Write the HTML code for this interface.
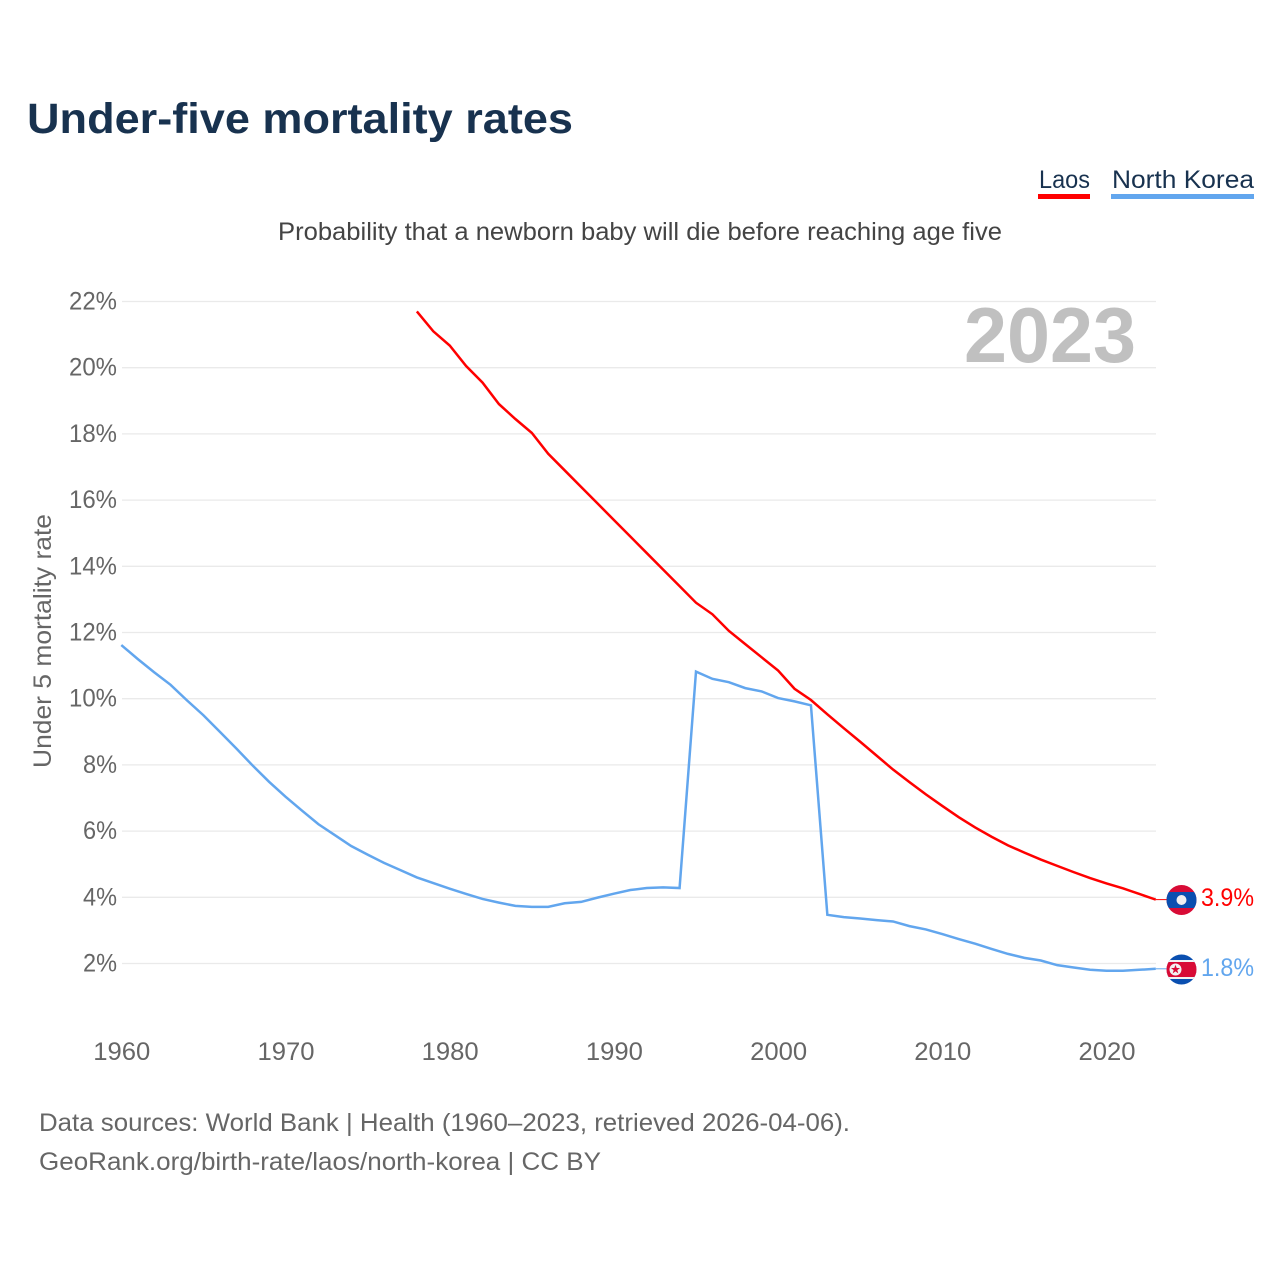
<!DOCTYPE html>
<html lang="en">
<head>
<meta charset="utf-8">
<title>Under-five mortality rates</title>
<style>
html,body{margin:0;padding:0;background:#fff;width:1280px;height:1280px;overflow:hidden}
svg{display:block}
text{font-family:"Liberation Sans",sans-serif}
</style>
</head>
<body>
<svg id="chart" xmlns="http://www.w3.org/2000/svg" width="1280" height="1280" viewBox="0 0 1280 1280">
  <defs>
    <clipPath id="laos-clip"><circle cx="1181.5" cy="900" r="15"/></clipPath>
    <clipPath id="korea-clip"><circle cx="1181.5" cy="969.5" r="15"/></clipPath>
  </defs>
  <rect width="1280" height="1280" fill="#fff"/>
  <text x="27" y="133" font-size="43" font-weight="700" fill="#18324f" textLength="546" lengthAdjust="spacingAndGlyphs">Under-five mortality rates</text>

  <g>
    <text x="1039" y="188" font-size="25" fill="#18324f" textLength="51" lengthAdjust="spacingAndGlyphs">Laos</text>
    <rect x="1038" y="194" width="52" height="5" fill="#ff0000"/>
  </g>
  <g>
    <text x="1112" y="188" font-size="25" fill="#18324f" textLength="142" lengthAdjust="spacingAndGlyphs">North Korea</text>
    <rect x="1111" y="194" width="143" height="5" fill="#62a6ee"/>
  </g>

  <text x="278" y="240" font-size="25" fill="#444444" textLength="724" lengthAdjust="spacingAndGlyphs">Probability that a newborn baby will die before reaching age five</text>

  <g id="grid"></g>
  <text x="964" y="362" font-size="78" font-weight="700" fill="#c0c0c0" textLength="172" lengthAdjust="spacingAndGlyphs">2023</text>
  <g id="y-ticks"></g>
  <g id="x-ticks"></g>
  <text transform="translate(51,768) rotate(-90)" font-size="25" fill="#666666" textLength="254" lengthAdjust="spacingAndGlyphs">Under 5 mortality rate</text>

  <g id="series"></g>

  <g clip-path="url(#laos-clip)">
    <rect x="1166" y="884" width="31" height="32" fill="#d80b36"/>
    <rect x="1166" y="892" width="31" height="16" fill="#0a4fb0"/>
    <circle cx="1181.5" cy="900" r="5" fill="#f0f0f0"/>
  </g>
  <g clip-path="url(#korea-clip)">
    <rect x="1166" y="954" width="31" height="31" fill="#0a4fb0"/>
    <rect x="1166" y="960" width="31" height="19" fill="#f2f2f2"/>
    <rect x="1166" y="962" width="31" height="15" fill="#d80b36"/>
    <circle cx="1175.5" cy="969.5" r="6" fill="#f2f2f2"/>
    <polygon points="1175.5,964.8 1176.7,968 1180,968 1177.3,970.1 1178.3,973.4 1175.5,971.4 1172.7,973.4 1173.7,970.1 1171,968 1174.3,968" fill="#d80b36"/>
  </g>
  <text x="1201" y="906" font-size="25" fill="#ff0000" textLength="53" lengthAdjust="spacingAndGlyphs">3.9%</text>
  <text x="1201" y="976" font-size="25" fill="#62a6ee" textLength="53" lengthAdjust="spacingAndGlyphs">1.8%</text>

  <text x="39" y="1131" font-size="25" fill="#666666" textLength="811" lengthAdjust="spacingAndGlyphs">Data sources: World Bank | Health (1960–2023, retrieved 2026-04-06).</text>
  <text x="39" y="1170" font-size="25" fill="#666666" textLength="562" lengthAdjust="spacingAndGlyphs">GeoRank.org/birth-rate/laos/north-korea | CC BY</text>
</svg>
<script>
const yTickValues = [2,4,6,8,10,12,14,16,18,20,22];
const xTickYears = [1960,1970,1980,1990,2000,2010,2020];
const koreaStartYear = 1960;
const koreaValues = [11.62,11.2,10.8,10.42,9.95,9.5,9.0,8.5,7.98,7.49,7.04,6.62,6.21,5.88,5.55,5.29,5.04,4.82,4.6,4.43,4.26,4.1,3.95,3.84,3.74,3.71,3.71,3.82,3.86,3.99,4.11,4.22,4.28,4.3,4.28,10.82,10.6,10.5,10.32,10.22,10.02,9.92,9.8,3.47,3.4,3.36,3.31,3.27,3.13,3.03,2.89,2.74,2.6,2.44,2.29,2.17,2.09,1.95,1.88,1.81,1.78,1.78,1.81,1.84];
const laosStartYear = 1978;
const laosValues = [21.7,21.1,20.67,20.05,19.55,18.9,18.45,18.03,17.4,16.9,16.4,15.9,15.4,14.9,14.4,13.9,13.4,12.9,12.55,12.05,11.65,11.25,10.85,10.3,9.96,9.53,9.11,8.7,8.28,7.86,7.48,7.11,6.76,6.42,6.11,5.83,5.57,5.35,5.14,4.95,4.76,4.58,4.42,4.27,4.1,3.93];

const NS = 'http://www.w3.org/2000/svg';
function xScale(year){ return 121.3 + (year - 1960) * 16.42; }
function yScale(v){ return 963.5 - (v - 2) * (963.5 - 301.5) / 20; }

const grid = document.getElementById('grid');
const yTicks = document.getElementById('y-ticks');
yTickValues.forEach(function(v){
  const l = document.createElementNS(NS,'line');
  
  
  l.setAttribute('x1', 122);
  l.setAttribute('x2', 1156);
  l.setAttribute('y1', yScale(v));
  l.setAttribute('y2', yScale(v));
  l.setAttribute('stroke', '#eaeaea');
  l.setAttribute('stroke-width', '1.3');
  grid.appendChild(l);
  const t = document.createElementNS(NS,'text');
  
  
  t.setAttribute('x', 117);
  t.setAttribute('y', yScale(v) + 8);
  t.setAttribute('text-anchor', 'end');
  t.setAttribute('font-size', '25');
  t.setAttribute('fill', '#666666');
  t.setAttribute('textLength', v < 10 ? 34 : 48);
  t.setAttribute('lengthAdjust', 'spacingAndGlyphs');
  t.textContent = v + '%';
  yTicks.appendChild(t);
});

const xTicks = document.getElementById('x-ticks');
xTickYears.forEach(function(y){
  const t = document.createElementNS(NS,'text');
  
  
  t.setAttribute('x', xScale(y) + 0.5);
  t.setAttribute('y', 1060);
  t.setAttribute('text-anchor', 'middle');
  t.setAttribute('font-size', '25');
  t.setAttribute('fill', '#666666');
  t.setAttribute('textLength', 57);
  t.setAttribute('lengthAdjust', 'spacingAndGlyphs');
  t.textContent = y;
  xTicks.appendChild(t);
});

function linePath(start, values){
  return values.map(function(v,i){
    return (i ? 'L' : 'M') + xScale(start + i).toFixed(2) + ' ' + yScale(v).toFixed(2);
  }).join(' ');
}
const seriesGroup = document.getElementById('series');

const koreaLine = document.createElementNS(NS,'path');


koreaLine.setAttribute('d', linePath(koreaStartYear, koreaValues));
koreaLine.setAttribute('fill', 'none');
koreaLine.setAttribute('stroke', '#62a6ee');
koreaLine.setAttribute('stroke-width', '2.5');
seriesGroup.appendChild(koreaLine);

const laosLine = document.createElementNS(NS,'path');


laosLine.setAttribute('d', linePath(laosStartYear, laosValues));
laosLine.setAttribute('fill', 'none');
laosLine.setAttribute('stroke', '#ff0000');
laosLine.setAttribute('stroke-width', '2.5');
seriesGroup.appendChild(laosLine);

const koreaLeader = document.createElementNS(NS,'line');


koreaLeader.setAttribute('x1', xScale(2023));
koreaLeader.setAttribute('x2', 1167);
koreaLeader.setAttribute('y1', yScale(koreaValues[koreaValues.length - 1]));
koreaLeader.setAttribute('y2', yScale(koreaValues[koreaValues.length - 1]));
koreaLeader.setAttribute('stroke', '#62a6ee');
koreaLeader.setAttribute('stroke-width', '1');
seriesGroup.appendChild(koreaLeader);

const laosLeader = document.createElementNS(NS,'line');


laosLeader.setAttribute('x1', xScale(2023));
laosLeader.setAttribute('x2', 1167);
laosLeader.setAttribute('y1', yScale(laosValues[laosValues.length - 1]));
laosLeader.setAttribute('y2', yScale(laosValues[laosValues.length - 1]));
laosLeader.setAttribute('stroke', '#ff0000');
laosLeader.setAttribute('stroke-width', '1');
seriesGroup.appendChild(laosLeader);
</script>
</body>
</html>
